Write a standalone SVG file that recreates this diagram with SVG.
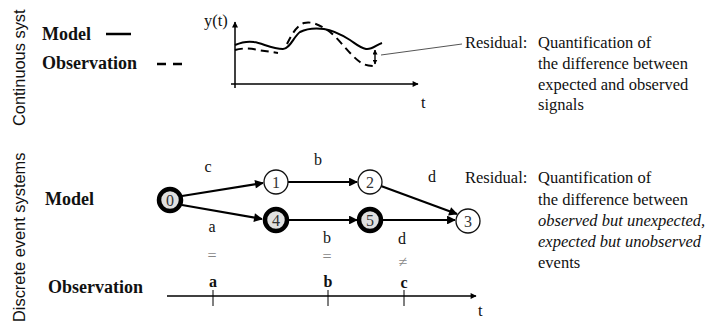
<svg xmlns="http://www.w3.org/2000/svg" width="707" height="327" viewBox="0 0 707 327">
<defs>
<style>
.side{font-family:"Liberation Sans",Arial,sans-serif;font-size:16.4px;fill:#111}
.lbl{font-family:"Liberation Serif","Times New Roman",serif;font-size:18px;font-weight:bold;fill:#111}
.txt{font-family:"Liberation Serif","Times New Roman",serif;font-size:16.5px;fill:#111}
.it{font-style:italic}
.ev{font-family:"Liberation Serif","Times New Roman",serif;font-size:16px;fill:#111;text-anchor:middle}
.evb{font-family:"Liberation Serif","Times New Roman",serif;font-size:16px;font-weight:bold;fill:#111;text-anchor:middle}
.eq{font-family:"Liberation Serif","Times New Roman",serif;font-size:16px;fill:#888;text-anchor:middle}
.num{font-family:"Liberation Serif","Times New Roman",serif;font-size:16px;fill:#333;text-anchor:middle}
.edge{stroke:#000;stroke-width:2.2;fill:none;marker-end:url(#ah)}
.thin{fill:#fff;stroke:#111;stroke-width:1.3}
.thick{fill:#e0e0e0;stroke:#000;stroke-width:4.5}
.ax{stroke:#000;stroke-width:1.5;fill:none}
</style>
<marker id="ah" viewBox="0 0 10 10" refX="9" refY="5" markerWidth="5" markerHeight="4" orient="auto" markerUnits="strokeWidth">
<path d="M0,0 L10,5 L0,10 z" fill="#000"/>
</marker>
<marker id="ah2" viewBox="0 0 10 10" refX="9" refY="5" markerWidth="8" markerHeight="6" orient="auto" markerUnits="userSpaceOnUse">
<path d="M0,0 L10,5 L0,10 z" fill="#000"/>
</marker>
<marker id="sa" viewBox="0 0 10 10" refX="9" refY="5" markerWidth="5" markerHeight="5" orient="auto-start-reverse" markerUnits="userSpaceOnUse">
<path d="M0,0 L10,5 L0,10 z" fill="#000"/>
</marker>
</defs>

<!-- Side titles -->
<text class="side" transform="translate(25,126) rotate(-90)">Continuous syst</text>
<text class="side" transform="translate(25,322) rotate(-90)">Discrete event systems</text>

<!-- Continuous part -->
<g id="legend-top">
<text class="lbl" x="42" y="40">Model</text>
<line x1="106" y1="34" x2="131" y2="34" stroke="#000" stroke-width="2.5"/>
<text class="lbl" x="42" y="69">Observation</text>
<line x1="157" y1="64" x2="183" y2="64" stroke="#000" stroke-width="2.5" stroke-dasharray="9,7"/>
</g>

<g id="plot">
<line class="ax" x1="235" y1="88" x2="235" y2="22" marker-end="url(#ah2)"/>
<line class="ax" x1="231" y1="84" x2="418" y2="84" marker-end="url(#ah2)"/>
<text class="txt" x="204" y="26">y(t)</text>
<text class="txt" x="421" y="108">t</text>
<path d="M235,45 C242,42 248,41 254,42 C262,43 272,49 283,49 C290,49 294,36 300,32 C306,29 316,28 324,29 C332,30 342,35 350,40 C356,44 360,48 366,49 C372,50 376,45 382,43" fill="none" stroke="#000" stroke-width="2"/>
<path d="M235,50 C242,48 250,48 258,50 L278,53 M287,44 C291,36 296,26 304,23 C312,21 320,25 330,32 C340,40 350,55 360,62 C364,65 368,66 376,66" fill="none" stroke="#000" stroke-width="2" stroke-dasharray="8,5"/>
<line x1="375" y1="50" x2="375" y2="64" stroke="#000" stroke-width="1.4" marker-start="url(#sa)" marker-end="url(#sa)"/>
<line x1="381" y1="55" x2="462" y2="44" stroke="#555" stroke-width="1"/>
</g>

<g id="residual-top">
<text class="txt" x="465" y="48">Residual:</text>
<text class="txt" x="538" y="48">Quantification of</text>
<text class="txt" x="538" y="69">the difference between</text>
<text class="txt" x="538" y="90">expected and observed</text>
<text class="txt" x="538" y="110">signals</text>
</g>

<!-- Discrete part -->
<text class="lbl" x="45" y="205">Model</text>
<text class="lbl" x="48" y="293">Observation</text>

<g id="connectors">
<line class="edge" x1="182" y1="196" x2="263" y2="183"/>
<line class="edge" x1="182" y1="205" x2="262" y2="219"/>
<line class="edge" x1="288" y1="182" x2="357" y2="182"/>
<line class="edge" x1="381" y1="186" x2="457" y2="214"/>
<line class="edge" x1="288" y1="220" x2="357" y2="220"/>
<line class="edge" x1="382" y1="220" x2="455" y2="220"/>
</g>

<g id="edge-labels">
<text class="ev" x="208" y="172">c</text>
<text class="ev" x="212" y="232">a</text>
<text class="ev" x="318" y="165">b</text>
<text class="ev" x="432" y="182">d</text>
<text class="ev" x="327" y="243">b</text>
<text class="ev" x="402" y="244">d</text>
<text class="eq" x="212" y="261">=</text>
<text class="eq" x="327" y="262">=</text>
<text class="eq" x="403" y="267">≠</text>
</g>

<g id="n0"><circle class="thick" cx="170" cy="200" r="11"/><text class="num" x="170" y="205.5">0</text></g>
<g id="n1"><circle class="thin" cx="276" cy="182" r="12"/><text class="num" x="276" y="187.5">1</text></g>
<g id="n2"><circle class="thin" cx="370" cy="182" r="12"/><text class="num" x="370" y="187.5">2</text></g>
<g id="n4"><circle class="thick" cx="276" cy="220" r="11"/><text class="num" x="276" y="225.5">4</text></g>
<g id="n5"><circle class="thick" cx="370" cy="220" r="11"/><text class="num" x="370" y="225.5">5</text></g>
<g id="n3"><circle class="thin" cx="468" cy="221" r="12"/><text class="num" x="468" y="226.5">3</text></g>

<g id="timeline">
<line class="ax" x1="167" y1="296" x2="476" y2="296" marker-end="url(#ah2)"/>
<line x1="213" y1="290" x2="213" y2="306" stroke="#000" stroke-width="1"/>
<line x1="328" y1="290" x2="328" y2="306" stroke="#000" stroke-width="1"/>
<line x1="404" y1="290" x2="404" y2="306" stroke="#000" stroke-width="1"/>
<text class="evb" x="213" y="287">a</text>
<text class="evb" x="328" y="287">b</text>
<text class="evb" x="404" y="288">c</text>
<text class="txt" x="478" y="316">t</text>
</g>

<g id="residual-bottom">
<text class="txt" x="465" y="183">Residual:</text>
<text class="txt" x="538" y="183">Quantification of</text>
<text class="txt" x="538" y="205">the difference between</text>
<text class="txt it" x="538" y="226">observed but unexpected,</text>
<text class="txt it" x="538" y="247">expected but unobserved</text>
<text class="txt" x="538" y="268">events</text>
</g>
</svg>
